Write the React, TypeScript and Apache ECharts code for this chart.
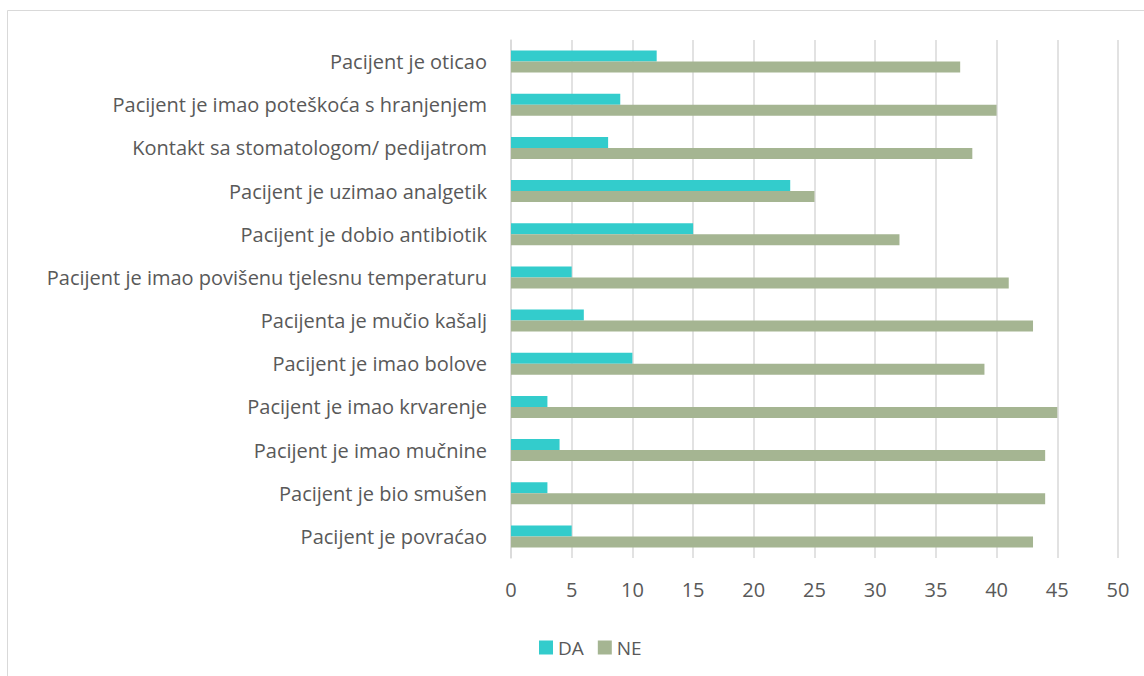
import React, { useEffect, useRef } from "react";
import * as echarts from "echarts";

const categories = [
  "Pacijent je oticao",
  "Pacijent je imao poteškoća s hranjenjem",
  "Kontakt sa stomatologom/ pedijatrom",
  "Pacijent je uzimao analgetik",
  "Pacijent je dobio antibiotik",
  "Pacijent je imao povišenu tjelesnu temperaturu",
  "Pacijenta je mučio kašalj",
  "Pacijent je imao bolove",
  "Pacijent je imao krvarenje",
  "Pacijent je imao mučnine",
  "Pacijent je bio smušen",
  "Pacijent je povraćao",
];
const daValues = [12, 9, 8, 23, 15, 5, 6, 10, 3, 4, 3, 5];
const neValues = [37, 40, 38, 25, 32, 41, 43, 39, 45, 44, 44, 43];
const seriesNames = ["DA", "NE"];
const colors = ["#33cccc", "#a5b592"];

export default function App() {
  const ref = useRef<HTMLDivElement>(null);
  useEffect(() => {
    if (!ref.current) return;
    const chart = echarts.init(ref.current, null, { renderer: "svg" });
    const font = "'Open Sans', 'Noto Sans', sans-serif";
    chart.setOption({
      animation: false,
      textStyle: { fontFamily: font },
      graphic: [
        {
          type: "rect",
          shape: { x: 7.5, y: 10.5, width: 1200, height: 700 },
          style: { fill: "none", stroke: "#d9d9d9", lineWidth: 1 },
          silent: true,
        },
      ],
      legend: {
        data: seriesNames,
        left: 534,
        top: 633,
        itemWidth: 14,
        itemHeight: 14,
        itemGap: 14,
        icon: "rect",
        textStyle: { color: "#595959", fontSize: 19, fontFamily: font },
      },
      grid: { left: 511, right: 26, top: 40, bottom: 118, containLabel: false },
      xAxis: {
        type: "value",
        min: 0,
        max: 50,
        interval: 5,
        axisLine: { show: false },
        axisTick: { show: false },
        axisLabel: { color: "#595959", fontSize: 20, margin: 21, fontFamily: font },
        splitLine: { lineStyle: { color: "#d9d9d9", width: 1.5 } },
      },
      yAxis: {
        type: "category",
        data: categories,
        inverse: true,
        axisLine: { show: true, lineStyle: { color: "#d9d9d9", width: 1.5 } },
        axisTick: { show: false },
        axisLabel: { color: "#595959", fontSize: 20, margin: 24, fontFamily: font },
      },
      series: [
        {
          name: seriesNames[0],
          type: "bar",
          data: daValues,
          itemStyle: { color: colors[0] },
          barWidth: 11,
          barGap: "0%",
        },
        {
          name: seriesNames[1],
          type: "bar",
          data: neValues,
          itemStyle: { color: colors[1] },
          barWidth: 11,
          barGap: "0%",
        },
      ],
    });
    return () => chart.dispose();
  }, []);
  return <div ref={ref} style={{ width: 1144, height: 676, position: "absolute", left: 0, top: 0 }} />;
}
